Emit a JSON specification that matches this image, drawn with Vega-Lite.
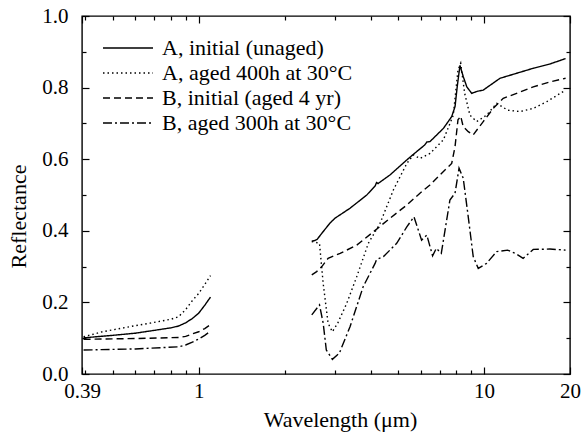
{
  "$schema": "https://vega.github.io/schema/vega-lite/v6.json",
  "width": 488,
  "height": 358,
  "autosize": "none",
  "padding": {"left": 82, "top": 16, "right": 12, "bottom": 62},
  "background": "white",
  "config": {
    "font": "Liberation Serif",
    "view": {"stroke": "black", "strokeWidth": 1.4},
    "axis": {
      "labelFont": "Liberation Serif",
      "titleFont": "Liberation Serif",
      "labelFontSize": 21, "titleFontSize": 22,
      "labelColor": "black", "titleColor": "black", "titleFontWeight": "normal",
      "ticks": true, "tickColor": "black", "tickOpacity": 1, "tickWidth": 1.2, "domain": false, "grid": false,
      "labelFlush": false, "labelOverlap": false, "zindex": 1
    }
  },
  "data": {"values": [
    {"series": "A, initial (unaged)", "seg": 1, "wl": 0.395, "r": 0.101},
    {"series": "A, initial (unaged)", "seg": 1, "wl": 0.5, "r": 0.108},
    {"series": "A, initial (unaged)", "seg": 1, "wl": 0.6, "r": 0.114},
    {"series": "A, initial (unaged)", "seg": 1, "wl": 0.7, "r": 0.122},
    {"series": "A, initial (unaged)", "seg": 1, "wl": 0.8, "r": 0.129},
    {"series": "A, initial (unaged)", "seg": 1, "wl": 0.85, "r": 0.134},
    {"series": "A, initial (unaged)", "seg": 1, "wl": 0.9, "r": 0.143},
    {"series": "A, initial (unaged)", "seg": 1, "wl": 0.95, "r": 0.155},
    {"series": "A, initial (unaged)", "seg": 1, "wl": 1.0, "r": 0.170},
    {"series": "A, initial (unaged)", "seg": 1, "wl": 1.05, "r": 0.192},
    {"series": "A, initial (unaged)", "seg": 1, "wl": 1.1, "r": 0.215},
    {"series": "A, initial (unaged)", "seg": 2, "wl": 2.49, "r": 0.371},
    {"series": "A, initial (unaged)", "seg": 2, "wl": 2.55, "r": 0.373},
    {"series": "A, initial (unaged)", "seg": 2, "wl": 2.6, "r": 0.376},
    {"series": "A, initial (unaged)", "seg": 2, "wl": 2.7, "r": 0.393},
    {"series": "A, initial (unaged)", "seg": 2, "wl": 2.88, "r": 0.421},
    {"series": "A, initial (unaged)", "seg": 2, "wl": 3.0, "r": 0.435},
    {"series": "A, initial (unaged)", "seg": 2, "wl": 3.39, "r": 0.463},
    {"series": "A, initial (unaged)", "seg": 2, "wl": 3.88, "r": 0.500},
    {"series": "A, initial (unaged)", "seg": 2, "wl": 4.15, "r": 0.525},
    {"series": "A, initial (unaged)", "seg": 2, "wl": 4.2, "r": 0.535},
    {"series": "A, initial (unaged)", "seg": 2, "wl": 4.25, "r": 0.532},
    {"series": "A, initial (unaged)", "seg": 2, "wl": 4.68, "r": 0.556},
    {"series": "A, initial (unaged)", "seg": 2, "wl": 5.36, "r": 0.598},
    {"series": "A, initial (unaged)", "seg": 2, "wl": 5.8, "r": 0.621},
    {"series": "A, initial (unaged)", "seg": 2, "wl": 6.2, "r": 0.640},
    {"series": "A, initial (unaged)", "seg": 2, "wl": 6.3, "r": 0.648},
    {"series": "A, initial (unaged)", "seg": 2, "wl": 6.46, "r": 0.649},
    {"series": "A, initial (unaged)", "seg": 2, "wl": 7.2, "r": 0.686},
    {"series": "A, initial (unaged)", "seg": 2, "wl": 7.7, "r": 0.719},
    {"series": "A, initial (unaged)", "seg": 2, "wl": 7.91, "r": 0.747},
    {"series": "A, initial (unaged)", "seg": 2, "wl": 8.05, "r": 0.802},
    {"series": "A, initial (unaged)", "seg": 2, "wl": 8.23, "r": 0.862},
    {"series": "A, initial (unaged)", "seg": 2, "wl": 8.45, "r": 0.831},
    {"series": "A, initial (unaged)", "seg": 2, "wl": 8.7, "r": 0.802},
    {"series": "A, initial (unaged)", "seg": 2, "wl": 9.05, "r": 0.784},
    {"series": "A, initial (unaged)", "seg": 2, "wl": 9.5, "r": 0.790},
    {"series": "A, initial (unaged)", "seg": 2, "wl": 9.93, "r": 0.793},
    {"series": "A, initial (unaged)", "seg": 2, "wl": 11.37, "r": 0.826},
    {"series": "A, initial (unaged)", "seg": 2, "wl": 13.0, "r": 0.840},
    {"series": "A, initial (unaged)", "seg": 2, "wl": 14.87, "r": 0.854},
    {"series": "A, initial (unaged)", "seg": 2, "wl": 17.0, "r": 0.866},
    {"series": "A, initial (unaged)", "seg": 2, "wl": 19.3, "r": 0.881},

    {"series": "A, aged 400h at 30°C", "seg": 1, "wl": 0.395, "r": 0.104},
    {"series": "A, aged 400h at 30°C", "seg": 1, "wl": 0.46, "r": 0.118},
    {"series": "A, aged 400h at 30°C", "seg": 1, "wl": 0.6, "r": 0.135},
    {"series": "A, aged 400h at 30°C", "seg": 1, "wl": 0.675, "r": 0.142},
    {"series": "A, aged 400h at 30°C", "seg": 1, "wl": 0.8, "r": 0.153},
    {"series": "A, aged 400h at 30°C", "seg": 1, "wl": 0.85, "r": 0.160},
    {"series": "A, aged 400h at 30°C", "seg": 1, "wl": 0.9, "r": 0.180},
    {"series": "A, aged 400h at 30°C", "seg": 1, "wl": 0.95, "r": 0.205},
    {"series": "A, aged 400h at 30°C", "seg": 1, "wl": 1.0, "r": 0.225},
    {"series": "A, aged 400h at 30°C", "seg": 1, "wl": 1.05, "r": 0.250},
    {"series": "A, aged 400h at 30°C", "seg": 1, "wl": 1.1, "r": 0.275},
    {"series": "A, aged 400h at 30°C", "seg": 2, "wl": 2.49, "r": 0.370},
    {"series": "A, aged 400h at 30°C", "seg": 2, "wl": 2.65, "r": 0.365},
    {"series": "A, aged 400h at 30°C", "seg": 2, "wl": 2.73, "r": 0.253},
    {"series": "A, aged 400h at 30°C", "seg": 2, "wl": 2.84, "r": 0.142},
    {"series": "A, aged 400h at 30°C", "seg": 2, "wl": 2.94, "r": 0.118},
    {"series": "A, aged 400h at 30°C", "seg": 2, "wl": 3.07, "r": 0.142},
    {"series": "A, aged 400h at 30°C", "seg": 2, "wl": 3.3, "r": 0.197},
    {"series": "A, aged 400h at 30°C", "seg": 2, "wl": 3.58, "r": 0.272},
    {"series": "A, aged 400h at 30°C", "seg": 2, "wl": 3.93, "r": 0.365},
    {"series": "A, aged 400h at 30°C", "seg": 2, "wl": 4.32, "r": 0.421},
    {"series": "A, aged 400h at 30°C", "seg": 2, "wl": 4.81, "r": 0.514},
    {"series": "A, aged 400h at 30°C", "seg": 2, "wl": 5.36, "r": 0.588},
    {"series": "A, aged 400h at 30°C", "seg": 2, "wl": 5.65, "r": 0.612},
    {"series": "A, aged 400h at 30°C", "seg": 2, "wl": 5.96, "r": 0.602},
    {"series": "A, aged 400h at 30°C", "seg": 2, "wl": 6.46, "r": 0.616},
    {"series": "A, aged 400h at 30°C", "seg": 2, "wl": 7.2, "r": 0.654},
    {"series": "A, aged 400h at 30°C", "seg": 2, "wl": 7.8, "r": 0.723},
    {"series": "A, aged 400h at 30°C", "seg": 2, "wl": 8.1, "r": 0.849},
    {"series": "A, aged 400h at 30°C", "seg": 2, "wl": 8.28, "r": 0.868},
    {"series": "A, aged 400h at 30°C", "seg": 2, "wl": 8.55, "r": 0.784},
    {"series": "A, aged 400h at 30°C", "seg": 2, "wl": 8.92, "r": 0.723},
    {"series": "A, aged 400h at 30°C", "seg": 2, "wl": 9.42, "r": 0.705},
    {"series": "A, aged 400h at 30°C", "seg": 2, "wl": 10.2, "r": 0.723},
    {"series": "A, aged 400h at 30°C", "seg": 2, "wl": 11.07, "r": 0.756},
    {"series": "A, aged 400h at 30°C", "seg": 2, "wl": 12.1, "r": 0.737},
    {"series": "A, aged 400h at 30°C", "seg": 2, "wl": 13.36, "r": 0.733},
    {"series": "A, aged 400h at 30°C", "seg": 2, "wl": 14.87, "r": 0.742},
    {"series": "A, aged 400h at 30°C", "seg": 2, "wl": 16.6, "r": 0.761},
    {"series": "A, aged 400h at 30°C", "seg": 2, "wl": 19.3, "r": 0.793},

    {"series": "B, initial (aged 4 yr)", "seg": 1, "wl": 0.395, "r": 0.097},
    {"series": "B, initial (aged 4 yr)", "seg": 1, "wl": 0.6, "r": 0.099},
    {"series": "B, initial (aged 4 yr)", "seg": 1, "wl": 0.85, "r": 0.102},
    {"series": "B, initial (aged 4 yr)", "seg": 1, "wl": 0.9, "r": 0.105},
    {"series": "B, initial (aged 4 yr)", "seg": 1, "wl": 0.95, "r": 0.112},
    {"series": "B, initial (aged 4 yr)", "seg": 1, "wl": 1.0, "r": 0.118},
    {"series": "B, initial (aged 4 yr)", "seg": 1, "wl": 1.05, "r": 0.127},
    {"series": "B, initial (aged 4 yr)", "seg": 1, "wl": 1.1, "r": 0.138},
    {"series": "B, initial (aged 4 yr)", "seg": 2, "wl": 2.49, "r": 0.277},
    {"series": "B, initial (aged 4 yr)", "seg": 2, "wl": 2.59, "r": 0.286},
    {"series": "B, initial (aged 4 yr)", "seg": 2, "wl": 2.7, "r": 0.300},
    {"series": "B, initial (aged 4 yr)", "seg": 2, "wl": 2.84, "r": 0.323},
    {"series": "B, initial (aged 4 yr)", "seg": 2, "wl": 3.13, "r": 0.337},
    {"series": "B, initial (aged 4 yr)", "seg": 2, "wl": 3.58, "r": 0.360},
    {"series": "B, initial (aged 4 yr)", "seg": 2, "wl": 4.09, "r": 0.397},
    {"series": "B, initial (aged 4 yr)", "seg": 2, "wl": 4.68, "r": 0.435},
    {"series": "B, initial (aged 4 yr)", "seg": 2, "wl": 5.36, "r": 0.472},
    {"series": "B, initial (aged 4 yr)", "seg": 2, "wl": 5.96, "r": 0.505},
    {"series": "B, initial (aged 4 yr)", "seg": 2, "wl": 6.46, "r": 0.528},
    {"series": "B, initial (aged 4 yr)", "seg": 2, "wl": 7.0, "r": 0.556},
    {"series": "B, initial (aged 4 yr)", "seg": 2, "wl": 7.7, "r": 0.588},
    {"series": "B, initial (aged 4 yr)", "seg": 2, "wl": 7.91, "r": 0.635},
    {"series": "B, initial (aged 4 yr)", "seg": 2, "wl": 8.1, "r": 0.710},
    {"series": "B, initial (aged 4 yr)", "seg": 2, "wl": 8.28, "r": 0.720},
    {"series": "B, initial (aged 4 yr)", "seg": 2, "wl": 8.45, "r": 0.691},
    {"series": "B, initial (aged 4 yr)", "seg": 2, "wl": 8.8, "r": 0.677},
    {"series": "B, initial (aged 4 yr)", "seg": 2, "wl": 9.16, "r": 0.668},
    {"series": "B, initial (aged 4 yr)", "seg": 2, "wl": 9.93, "r": 0.705},
    {"series": "B, initial (aged 4 yr)", "seg": 2, "wl": 10.77, "r": 0.742},
    {"series": "B, initial (aged 4 yr)", "seg": 2, "wl": 11.67, "r": 0.770},
    {"series": "B, initial (aged 4 yr)", "seg": 2, "wl": 13.0, "r": 0.784},
    {"series": "B, initial (aged 4 yr)", "seg": 2, "wl": 14.87, "r": 0.802},
    {"series": "B, initial (aged 4 yr)", "seg": 2, "wl": 17.0, "r": 0.816},
    {"series": "B, initial (aged 4 yr)", "seg": 2, "wl": 19.3, "r": 0.826},

    {"series": "B, aged 300h at 30°C", "seg": 1, "wl": 0.395, "r": 0.067},
    {"series": "B, aged 300h at 30°C", "seg": 1, "wl": 0.6, "r": 0.070},
    {"series": "B, aged 300h at 30°C", "seg": 1, "wl": 0.85, "r": 0.076},
    {"series": "B, aged 300h at 30°C", "seg": 1, "wl": 0.9, "r": 0.081},
    {"series": "B, aged 300h at 30°C", "seg": 1, "wl": 0.95, "r": 0.089},
    {"series": "B, aged 300h at 30°C", "seg": 1, "wl": 1.0, "r": 0.098},
    {"series": "B, aged 300h at 30°C", "seg": 1, "wl": 1.05, "r": 0.108},
    {"series": "B, aged 300h at 30°C", "seg": 1, "wl": 1.1, "r": 0.120},
    {"series": "B, aged 300h at 30°C", "seg": 2, "wl": 2.49, "r": 0.165},
    {"series": "B, aged 300h at 30°C", "seg": 2, "wl": 2.65, "r": 0.193},
    {"series": "B, aged 300h at 30°C", "seg": 2, "wl": 2.73, "r": 0.142},
    {"series": "B, aged 300h at 30°C", "seg": 2, "wl": 2.8, "r": 0.067},
    {"series": "B, aged 300h at 30°C", "seg": 2, "wl": 2.94, "r": 0.041},
    {"series": "B, aged 300h at 30°C", "seg": 2, "wl": 3.11, "r": 0.058},
    {"series": "B, aged 300h at 30°C", "seg": 2, "wl": 3.39, "r": 0.132},
    {"series": "B, aged 300h at 30°C", "seg": 2, "wl": 3.77, "r": 0.244},
    {"series": "B, aged 300h at 30°C", "seg": 2, "wl": 4.15, "r": 0.309},
    {"series": "B, aged 300h at 30°C", "seg": 2, "wl": 4.2, "r": 0.320},
    {"series": "B, aged 300h at 30°C", "seg": 2, "wl": 4.44, "r": 0.328},
    {"series": "B, aged 300h at 30°C", "seg": 2, "wl": 4.94, "r": 0.365},
    {"series": "B, aged 300h at 30°C", "seg": 2, "wl": 5.36, "r": 0.411},
    {"series": "B, aged 300h at 30°C", "seg": 2, "wl": 5.68, "r": 0.439},
    {"series": "B, aged 300h at 30°C", "seg": 2, "wl": 6.04, "r": 0.374},
    {"series": "B, aged 300h at 30°C", "seg": 2, "wl": 6.3, "r": 0.388},
    {"series": "B, aged 300h at 30°C", "seg": 2, "wl": 6.6, "r": 0.330},
    {"series": "B, aged 300h at 30°C", "seg": 2, "wl": 6.8, "r": 0.351},
    {"series": "B, aged 300h at 30°C", "seg": 2, "wl": 7.08, "r": 0.337},
    {"series": "B, aged 300h at 30°C", "seg": 2, "wl": 7.59, "r": 0.486},
    {"series": "B, aged 300h at 30°C", "seg": 2, "wl": 7.91, "r": 0.505},
    {"series": "B, aged 300h at 30°C", "seg": 2, "wl": 8.17, "r": 0.575},
    {"series": "B, aged 300h at 30°C", "seg": 2, "wl": 8.45, "r": 0.547},
    {"series": "B, aged 300h at 30°C", "seg": 2, "wl": 8.8, "r": 0.439},
    {"series": "B, aged 300h at 30°C", "seg": 2, "wl": 9.16, "r": 0.328},
    {"series": "B, aged 300h at 30°C", "seg": 2, "wl": 9.54, "r": 0.295},
    {"series": "B, aged 300h at 30°C", "seg": 2, "wl": 10.2, "r": 0.309},
    {"series": "B, aged 300h at 30°C", "seg": 2, "wl": 11.07, "r": 0.342},
    {"series": "B, aged 300h at 30°C", "seg": 2, "wl": 12.1, "r": 0.346},
    {"series": "B, aged 300h at 30°C", "seg": 2, "wl": 13.0, "r": 0.335},
    {"series": "B, aged 300h at 30°C", "seg": 2, "wl": 13.7, "r": 0.323},
    {"series": "B, aged 300h at 30°C", "seg": 2, "wl": 14.87, "r": 0.348},
    {"series": "B, aged 300h at 30°C", "seg": 2, "wl": 17.0, "r": 0.349},
    {"series": "B, aged 300h at 30°C", "seg": 2, "wl": 19.3, "r": 0.346}
  ]},
  "resolve": {"axis": {"x": "independent", "y": "independent"}},
  "layer": [
    {
      "mark": {"type": "line", "color": "black", "strokeWidth": 1.4},
      "encoding": {
        "x": {"field": "wl", "type": "quantitative",
          "scale": {"type": "log", "domain": [0.39, 20], "nice": false},
          "axis": {"orient": "bottom", "values": [0.39, 1, 10, 20], "format": "~g", "offset": -7, "ticks": true, "tickSize": 7, "labelPadding": 6, "title": "Wavelength (μm)", "titlePadding": 8, "titleX": 258}},
        "y": {"field": "r", "type": "quantitative",
          "scale": {"domain": [0, 1], "nice": false, "zero": false},
          "axis": {"orient": "left", "values": [0, 0.2, 0.4, 0.6, 0.8, 1.0], "format": ".1f", "offset": -7, "ticks": true, "tickSize": 7, "labelPadding": 14, "title": "Reflectance", "titlePadding": 11, "titleY": 200}},
        "detail": {"field": "seg", "type": "nominal"},
        "strokeDash": {"field": "series", "type": "nominal",
          "scale": {"domain": ["A, initial (unaged)", "A, aged 400h at 30°C", "B, initial (aged 4 yr)", "B, aged 300h at 30°C"],
                    "range": [[1, 0], [1.5, 3], [7, 4], [9, 3, 2, 3]]},
          "legend": {"title": null, "orient": "none", "legendX": 35, "legendY": 21, "padding": 0,
            "symbolType": "M-2.5,0H2.5", "symbolSize": 400, "symbolStrokeWidth": 1.4, "symbolStrokeColor": "black",
            "labelFont": "Liberation Serif", "labelFontSize": 22, "labelColor": "black", "labelOffset": 23, "rowPadding": 3, "labelLimit": 400}}
      }
    },
    {
      "mark": {"type": "point", "opacity": 0},
      "encoding": {
        "x": {"field": "wl", "type": "quantitative", "axis": {"orient": "top", "values": [0.39, 1, 10, 20], "labels": false, "offset": -7, "ticks": true, "tickSize": 7, "title": null}},
        "y": {"field": "r", "type": "quantitative", "axis": {"orient": "right", "values": [0, 0.2, 0.4, 0.6, 0.8, 1.0], "labels": false, "offset": -7, "ticks": true, "tickSize": 7, "title": null}}
      }
    },
    {
      "mark": {"type": "point", "opacity": 0},
      "encoding": {
        "x": {"field": "wl", "type": "quantitative", "axis": {"orient": "bottom", "values": [0.4, 0.5, 0.6, 0.7, 0.8, 0.9, 2, 3, 4, 5, 6, 7, 8, 9], "labels": false, "offset": -4, "ticks": true, "tickSize": 4, "title": null}},
        "y": {"field": "r", "type": "quantitative", "axis": {"orient": "left", "values": [0.1, 0.3, 0.5, 0.7, 0.9], "labels": false, "offset": -4, "ticks": true, "tickSize": 4, "title": null}}
      }
    },
    {
      "mark": {"type": "point", "opacity": 0},
      "encoding": {
        "x": {"field": "wl", "type": "quantitative", "axis": {"orient": "top", "values": [0.4, 0.5, 0.6, 0.7, 0.8, 0.9, 2, 3, 4, 5, 6, 7, 8, 9], "labels": false, "offset": -4, "ticks": true, "tickSize": 4, "title": null}},
        "y": {"field": "r", "type": "quantitative", "axis": {"orient": "right", "values": [0.1, 0.3, 0.5, 0.7, 0.9], "labels": false, "offset": -4, "ticks": true, "tickSize": 4, "title": null}}
      }
    }
  ]
}
